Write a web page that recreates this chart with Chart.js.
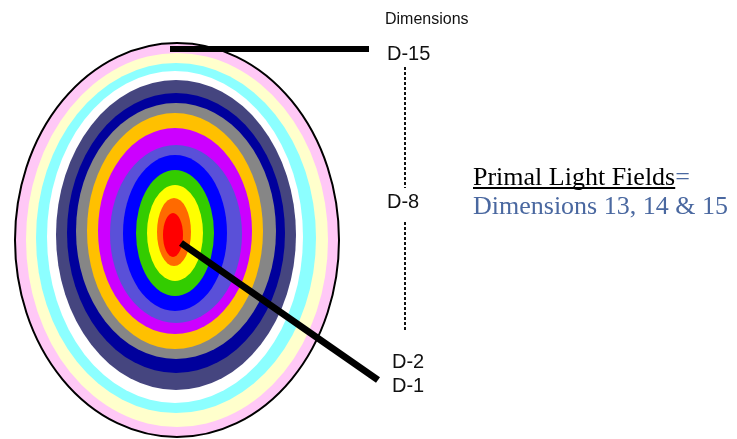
<!DOCTYPE html>
<html>
<head>
<meta charset="utf-8">
<script src="https://cdn.jsdelivr.net/npm/chart.js@4.4.1/dist/chart.umd.min.js"></script>
<style>
  html, body { margin: 0; padding: 0; background: #fff; }
  canvas { display: block; }
</style>
</head>
<body>
<canvas id="rings" width="737" height="439"></canvas>
<script>
// rings from the outside in, D-15 down to D-1
const ringLabels = ['D-15', 'D-14', 'D-13', 'D-12', 'D-11', 'D-10', 'D-9', 'D-8', 'D-7', 'D-6', 'D-5', 'D-4', 'D-3', 'D-2', 'D-1']
const ringCenterX = [177, 177, 176, 175, 176, 176, 176, 175, 175, 176, 175, 175, 175, 174, 173]
const ringCenterY = [240, 240, 238, 237, 235, 233, 231, 231, 231, 234, 233, 233, 233, 232, 235]
const ringRadiusX = [162, 151, 140, 128, 120, 109, 100, 88, 77, 66, 52, 39, 28, 17, 10]
const ringRadiusY = [197, 187, 175, 166, 155, 140, 128, 118, 103, 89, 78, 63, 48, 34, 22]

const ringColors = ['#ffc8f6', '#ffffcc', '#8cffff', '#ffffff', '#45457f', '#00009c', '#868686',
  '#ffc000', '#cc00ff', '#5a50d8', '#0000ff', '#33cc00', '#ffff00', '#ff6a00', '#ff0000']

const scaleLabels = [
  { text: 'D-15', x: 387, y: 54 },
  { text: 'D-8', x: 387, y: 202 },
  { text: 'D-2', x: 392, y: 362 },
  { text: 'D-1', x: 392, y: 386 }
]

const ringsPlugin = {
  id: 'rings',
  beforeDatasetsDraw(chart) {
    const ctx = chart.ctx
    const xs = chart.scales.x
    const ys = chart.scales.y
    const px = v => xs.getPixelForValue(v)
    const py = v => ys.getPixelForValue(v)
    const sx = r => Math.abs(xs.getPixelForValue(r) - xs.getPixelForValue(0))
    const sy = r => Math.abs(ys.getPixelForValue(r) - ys.getPixelForValue(0))

    ctx.save()
    ringLabels.forEach((label, i) => {
      ctx.beginPath()
      ctx.ellipse(px(ringCenterX[i]), py(ringCenterY[i]), sx(ringRadiusX[i]), sy(ringRadiusY[i]), 0, 0, Math.PI * 2)
      ctx.fillStyle = ringColors[i]
      ctx.fill()
      if (i === 0) {
        ctx.lineWidth = 2
        ctx.strokeStyle = '#000'
        ctx.stroke()
      }
    })

    // pointer lines
    ctx.strokeStyle = '#000'
    ctx.lineCap = 'butt'
    ctx.lineWidth = 6
    ctx.beginPath()
    ctx.moveTo(px(170), py(49))
    ctx.lineTo(px(369), py(49))
    ctx.stroke()
    ctx.lineWidth = 7
    ctx.beginPath()
    ctx.moveTo(px(181), py(243))
    ctx.lineTo(px(378), py(380))
    ctx.stroke()

    // dashed scale
    ctx.lineWidth = 2
    ctx.strokeStyle = '#111'
    ctx.setLineDash([3, 2])
    ctx.beginPath()
    ctx.moveTo(px(405), py(67))
    ctx.lineTo(px(405), py(188))
    ctx.moveTo(px(405), py(222))
    ctx.lineTo(px(405), py(332))
    ctx.stroke()
    ctx.setLineDash([])

    // labels
    ctx.fillStyle = '#111'
    ctx.textBaseline = 'middle'
    ctx.textAlign = 'left'
    ctx.font = '16px "Liberation Sans", Arial, sans-serif'
    ctx.fillText('Dimensions', px(385), py(20))
    ctx.font = '20px "Liberation Sans", Arial, sans-serif'
    scaleLabels.forEach(l => ctx.fillText(l.text, px(l.x), py(l.y)))

    // note on the right
    ctx.textBaseline = 'alphabetic'
    ctx.font = '26px "Liberation Serif", "Times New Roman", serif'
    const t1 = 'Primal Light Fields'
    const w1 = ctx.measureText(t1).width
    ctx.fillStyle = '#000'
    ctx.fillText(t1, px(473), py(185))
    ctx.fillRect(px(473), py(187), w1, 2)
    ctx.fillStyle = '#4a68a0'
    ctx.fillText('=', px(473) + w1, py(185))
    ctx.fillText('Dimensions 13, 14 & 15', px(473), py(214))
    ctx.restore()
  }
}

new Chart(document.getElementById('rings'), {
  type: 'scatter',
  data: {
    datasets: [{
      label: 'Ring centres',
      data: ringLabels.map((l, i) => ({ x: ringCenterX[i], y: ringCenterY[i] })),
      pointRadius: 0
    }]
  },
  options: {
    responsive: false,
    animation: false,
    devicePixelRatio: 1,
    layout: { padding: 0 },
    plugins: { legend: { display: false }, tooltip: { enabled: false } },
    scales: {
      x: { type: 'linear', min: 0, max: 737, display: false },
      y: { type: 'linear', min: 0, max: 439, reverse: true, display: false }
    }
  },
  plugins: [ringsPlugin]
})
</script>
</body>
</html>
